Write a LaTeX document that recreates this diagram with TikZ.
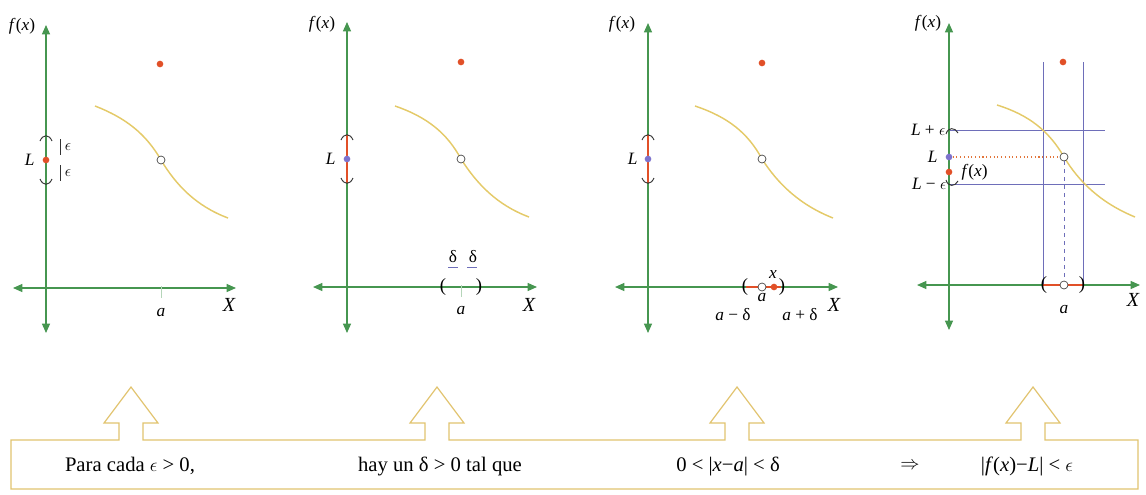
\documentclass[tikz,border=0pt]{standalone}
\usepackage{fontspec}
\setmainfont{Liberation Serif}
\usetikzlibrary{arrows.meta}
\definecolor{axisgreen}{RGB}{70,150,80}
\definecolor{curveyellow}{RGB}{228,202,105}
\definecolor{dotred}{RGB}{225,80,40}
\definecolor{dotblue}{RGB}{125,115,205}
\definecolor{lineblue}{RGB}{110,110,185}
\definecolor{boxyellow}{RGB}{225,195,110}
\tikzset{
    axisline/.style={draw=axisgreen, line width=0.9pt,
        {Triangle[length=7pt,width=6pt]}-{Triangle[length=7pt,width=6pt]}},
    graphcurve/.style={draw=curveyellow, line width=1.1pt},
    reddot/.style={circle, fill=dotred, inner sep=0pt, minimum size=5pt},
    bluedot/.style={circle, fill=dotblue, inner sep=0pt, minimum size=5pt},
    holedot/.style={circle, draw=black!75, fill=white, line width=0.5pt, inner sep=0pt, minimum size=6pt},
    lbl/.style={font=\fontsize{13}{15}\selectfont, inner sep=1pt},
    axlbl/.style={font=\fontsize{15}{17}\selectfont\itshape, inner sep=1pt},
    paren/.style={font=\fontsize{14}{16}\selectfont, inner sep=0pt},
    bigtext/.style={font=\fontsize{15.5}{18}\selectfont},
    interval/.style={draw=dotred, line width=2pt},
    bracket/.style={draw=black!80, line width=0.7pt},
    guide/.style={draw=lineblue, line width=0.7pt},
    atick/.style={draw=axisgreen!40, line width=0.5pt},
}

\begin{document}
\begin{tikzpicture}[x=0.75pt, y=-0.75pt]
    \useasboundingbox (0,0) rectangle (1146,494);

    % Panel 1: epsilon around L
    \begin{scope}[shift={(46,288)}]
        \draw[axisline] (-33,0) -- (190,0);
        \draw[axisline] (0,45) -- (0,-263);
        \draw[atick] (115,-2) -- (115,10);
        \draw[graphcurve] (49,-182) .. controls (80,-170) and (100,-154) .. (115,-128)
            .. controls (130,-103) and (150,-82) .. (182,-70);
        \node[holedot] (hole1) at (115,-128) {};
        \node[reddot] (val1) at (114,-224) {};
        \node[reddot] (L1) at (0,-128) {};
        \draw[bracket] (-6,-147) .. controls (-3,-154) and (3,-154) .. (6,-147);
        \draw[bracket] (-6,-109) .. controls (-3,-102) and (3,-102) .. (6,-109);
        \draw[bracket, line width=0.5pt] (14,-149) -- (14,-133);
        \draw[bracket, line width=0.5pt] (14,-123) -- (14,-107);
        \node[lbl] (eps1a) at (22,-141) {$\epsilon$};
        \node[lbl] (eps1b) at (22,-115) {$\epsilon$};
        \node[lbl, anchor=east] (Llbl1) at (-10,-128) {\textit{L}};
        \node[lbl] (fx1) at (-24,-262) {\textit{f}(\textit{x})};
        \node[lbl] (a1) at (115,24) {\textit{a}};
        \node[axlbl] (X1) at (183,17) {X};
    \end{scope}

    % Panel 2: delta around a
    \begin{scope}[shift={(347,287)}]
        \draw[axisline] (-34,0) -- (190,0);
        \draw[axisline] (0,46) -- (0,-265);
        \draw[atick] (114,-2) -- (114,10);
        \draw[graphcurve] (48,-181) .. controls (80,-170) and (100,-154) .. (114,-128)
            .. controls (130,-103) and (150,-82) .. (182,-70);
        \node[holedot] (hole2) at (114,-128) {};
        \node[reddot] (val2) at (114,-225) {};
        \draw[interval] (0,-152) -- (0,-104);
        \node[bluedot] (L2) at (0,-128) {};
        \draw[bracket] (-6,-147) .. controls (-3,-154) and (3,-154) .. (6,-147);
        \draw[bracket] (-6,-109) .. controls (-3,-102) and (3,-102) .. (6,-109);
        \node[paren] (lp2) at (96,0) {(};
        \node[paren] (rp2) at (132,0) {)};
        \node[lbl] (d2a) at (106,-30) {δ};
        \node[lbl] (d2b) at (126,-30) {δ};
        \draw[guide, line width=0.5pt] (101,-20) -- (111,-20);
        \draw[guide, line width=0.5pt] (120,-20) -- (130,-20);
        \node[lbl, anchor=east] (Llbl2) at (-10,-128) {\textit{L}};
        \node[lbl] (fx2) at (-25,-263) {\textit{f}(\textit{x})};
        \node[lbl] (a2) at (114,24) {\textit{a}};
        \node[axlbl] (X2) at (182,18) {X};
    \end{scope}

    % Panel 3: x inside the delta interval
    \begin{scope}[shift={(648,287)}]
        \draw[axisline] (-33,0) -- (190,0);
        \draw[axisline] (0,46) -- (0,-264);
        \draw[graphcurve] (47,-181) .. controls (80,-170) and (100,-154) .. (114,-128)
            .. controls (130,-103) and (152,-82) .. (185,-69);
        \node[holedot] (hole3) at (114,-128) {};
        \node[reddot] (val3) at (114,-224) {};
        \draw[interval] (0,-152) -- (0,-104);
        \node[bluedot] (L3) at (0,-128) {};
        \draw[bracket] (-6,-147) .. controls (-3,-154) and (3,-154) .. (6,-147);
        \draw[bracket] (-6,-109) .. controls (-3,-102) and (3,-102) .. (6,-109);
        \coordinate (lo3) at (98,0);
        \coordinate (hi3) at (133,0);
        \draw[interval] (lo3) -- (hi3);
        \node[paren] (lp3) at (97,0) {(};
        \node[paren] (rp3) at (134,0) {)};
        \node[holedot] (ax3) at (114,0) {};
        \node[reddot] (x3) at (126,0) {};
        \node[lbl] (xlbl3) at (125,-12) {\textit{x}};
        \node[lbl] (a3) at (114,11) {\textit{a}};
        \node[lbl] (am3) at (85,28) {\textit{a} − δ};
        \node[lbl] (ap3) at (152,28) {\textit{a} + δ};
        \node[lbl, anchor=east] (Llbl3) at (-9,-128) {\textit{L}};
        \node[lbl] (fx3) at (-26,-263) {\textit{f}(\textit{x})};
        \node[axlbl] (X3) at (186,18) {X};
    \end{scope}

    % Panel 4: the image of the delta interval
    \begin{scope}[shift={(949,285)}]
        \coordinate (o4) at (0,0);
        \draw[guide] (94,-223) -- (94,0);
        \draw[guide] (134,-223) -- (134,0);
        \draw[guide] (0,-155) -- (156,-155);
        \draw[guide] (0,-101) -- (156,-101);
        \draw[axisline] (-32,0) -- (191,0);
        \draw[axisline] (0,45) -- (0,-262);
        \draw[graphcurve] (48,-180) .. controls (80,-170) and (100,-154) .. (115,-128)
            .. controls (130,-103) and (152,-82) .. (186,-68);
        \node[holedot] (hole4) at (115,-128) {};
        \node[reddot] (val4) at (114,-223) {};
        \node[bluedot] (L4) at (0,-128) {};
        \node[reddot] (fxdot4) at (0,-113) {};
        \draw[dotred!70!curveyellow, dotted, line width=0.8pt] (L4) -- (hole4);
        \draw[lineblue, dashed, line width=0.5pt] (hole4) -- (hole4 |- o4);
        \draw[bracket] (-3,-151) .. controls (-1,-158) and (6,-158) .. (9,-152);
        \draw[bracket] (-3,-105) .. controls (-1,-98) and (6,-98) .. (9,-104);
        \coordinate (lo4) at (94,0);
        \coordinate (hi4) at (134,0);
        \draw[interval] (lo4) -- (hi4);
        \node[paren] (lp4) at (95,0) {(};
        \node[paren] (rp4) at (133,0) {)};
        \node[holedot] (ax4) at (115,0) {};
        \node[lbl, anchor=east] (Lp4) at (-2,-155) {\textit{L} + $\epsilon$};
        \node[lbl, anchor=east] (Llbl4) at (-10,-128) {\textit{L}};
        \node[lbl, anchor=east] (Lm4) at (-1,-101) {\textit{L} − $\epsilon$};
        \node[lbl, anchor=west] (fxlbl4) at (11,-113) {\textit{f}(\textit{x})};
        \node[lbl] (fx4) at (-21,-262) {\textit{f}(\textit{x})};
        \node[lbl] (a4) at (115,25) {\textit{a}};
        \node[axlbl] (X4) at (184,15) {X};
    \end{scope}

    % Statement box with the four pointers
    \draw[boxyellow, line width=0.9pt]
        (11,440) -- (119,440) -- (119,423) -- (104,423) -- (131,387) -- (158,423) -- (143,423) -- (143,440)
        -- (425,440) -- (425,423) -- (410,423) -- (437,387) -- (464,423) -- (449,423) -- (449,440)
        -- (725,440) -- (725,423) -- (710,423) -- (737,387) -- (764,423) -- (749,423) -- (749,440)
        -- (1021,440) -- (1021,423) -- (1006,423) -- (1033,387) -- (1060,423) -- (1045,423) -- (1045,440)
        -- (1138,440) -- (1138,489) -- (11,489) -- cycle;
    \node[bigtext] (txt1) at (130,466) {Para cada $\epsilon$ > 0,};
    \node[bigtext] (txt2) at (440,466) {hay un δ > 0 tal que};
    \node[bigtext] (txt3) at (728,466) {0 < |\textit{x}−\textit{a}| < δ};
    \node[bigtext] (txt4) at (910,466) {$\Rightarrow$};
    \node[bigtext] (txt5) at (1027,466) {|\textit{f}(\textit{x})−\textit{L}| < $\epsilon$};
\end{tikzpicture}
\end{document}
